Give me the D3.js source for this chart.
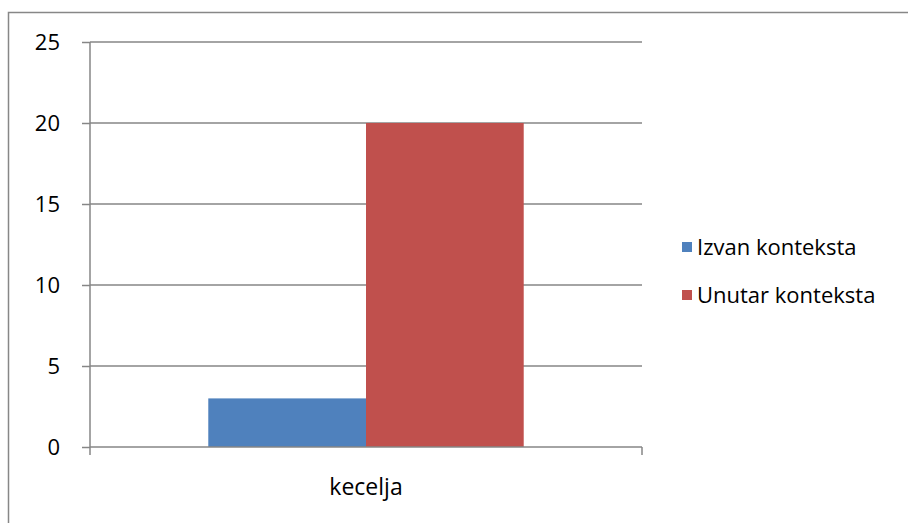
<!DOCTYPE html>
<html>
<head>
<meta charset="utf-8">
<script src="https://cdn.jsdelivr.net/npm/d3@7"></script>
<style>
  body { margin: 0; background: #fff; }
  text { font-family: "Open Sans", sans-serif; fill: #000; }
</style>
</head>
<body>
<script>
// chart data
var categories = ['kecelja'];
var seriesNames = ['Izvan konteksta', 'Unutar konteksta'];
var seriesValues = [[3], [20]];
var seriesColors = ['#4f81bd', '#c0504d'];
var yTicks = [0, 5, 10, 15, 20, 25];

var width = 908;
var height = 523;

var svg = d3.select('body')
  .append('svg')
  .attr('width', width)
  .attr('height', height);

// outer frame (only left + top visible in the picture)
svg.append('rect')
  .attr('x', 8.5)
  .attr('y', 12.5)
  .attr('width', width + 20)
  .attr('height', height + 20)
  .attr('fill', 'none')
  .attr('stroke', '#878787')
  .attr('stroke-width', 1.5);

var plotLeft = 90, plotRight = 642, plotTop = 42, plotBottom = 447;

var x = d3.scaleBand()
  .domain(categories)
  .range([plotLeft, plotRight])
  .paddingInner(0)
  .paddingOuter(0);

var x1 = d3.scaleBand()
  .domain(seriesNames)
  .range([0, x.bandwidth()])
  .paddingOuter(0.75);

var y = d3.scaleLinear()
  .domain([0, 25])
  .range([plotBottom, plotTop]);

// gridlines
svg.append('g')
  .selectAll('line')
  .data(yTicks.filter(d => d > 0))
  .enter()
  .append('line')
  .attr('x1', plotLeft)
  .attr('x2', plotRight)
  .attr('y1', d => y(d))
  .attr('y2', d => y(d))
  .attr('stroke', '#868686')
  .attr('stroke-width', 1.5);

// bars
categories.forEach(function(cat, ci) {
  seriesNames.forEach(function(name, si) {
    svg.append('rect')
      .attr('x', x(cat) + x1(name))
      .attr('y', y(seriesValues[si][ci]))
      .attr('width', x1.bandwidth())
      .attr('height', y(0) - y(seriesValues[si][ci]))
      .attr('fill', seriesColors[si]);
  });
});

// y axis
var yAxis = svg.append('g')
  .attr('transform', 'translate(' + plotLeft + ',0)')
  .call(d3.axisLeft(y).tickValues(yTicks).tickSize(8).tickPadding(22));
yAxis.selectAll('path, line').attr('stroke', '#868686').attr('stroke-width', 1.5);
yAxis.select('.domain').attr('d', 'M0,' + plotTop + 'V' + plotBottom);
yAxis.selectAll('text')
  .style('font-family', '"Open Sans", sans-serif')
  .style('font-size', '22px')
  .attr('fill', '#000');

// x axis
var xAxis = svg.append('g')
  .attr('transform', 'translate(0,' + plotBottom + ')')
  .call(d3.axisBottom(x).tickSize(0).tickPadding(32));
xAxis.select('.domain').attr('stroke', '#868686').attr('stroke-width', 1.5)
  .attr('d', 'M' + plotLeft + ',0H' + plotRight);
xAxis.selectAll('text')
  .style('font-family', '"Open Sans", sans-serif')
  .style('font-size', '23px')
  .attr('fill', '#000');
xAxis.selectAll('.edge')
  .data([plotLeft, plotRight])
  .enter()
  .append('line')
  .attr('x1', d => d).attr('x2', d => d)
  .attr('y1', 0).attr('y2', 8)
  .attr('stroke', '#868686')
  .attr('stroke-width', 1.5);

// legend
var legend = svg.append('g')
  .selectAll('g')
  .data(seriesNames)
  .enter()
  .append('g')
  .attr('transform', (d, i) => 'translate(682,' + (242 + i * 48) + ')');
legend.append('rect')
  .attr('width', 10)
  .attr('height', 10)
  .attr('fill', (d, i) => seriesColors[i]);
legend.append('text')
  .attr('x', 15)
  .attr('y', 5)
  .attr('dy', '0.35em')
  .style('font-size', '22px')
  .text(d => d);
</script>
</body>
</html>
